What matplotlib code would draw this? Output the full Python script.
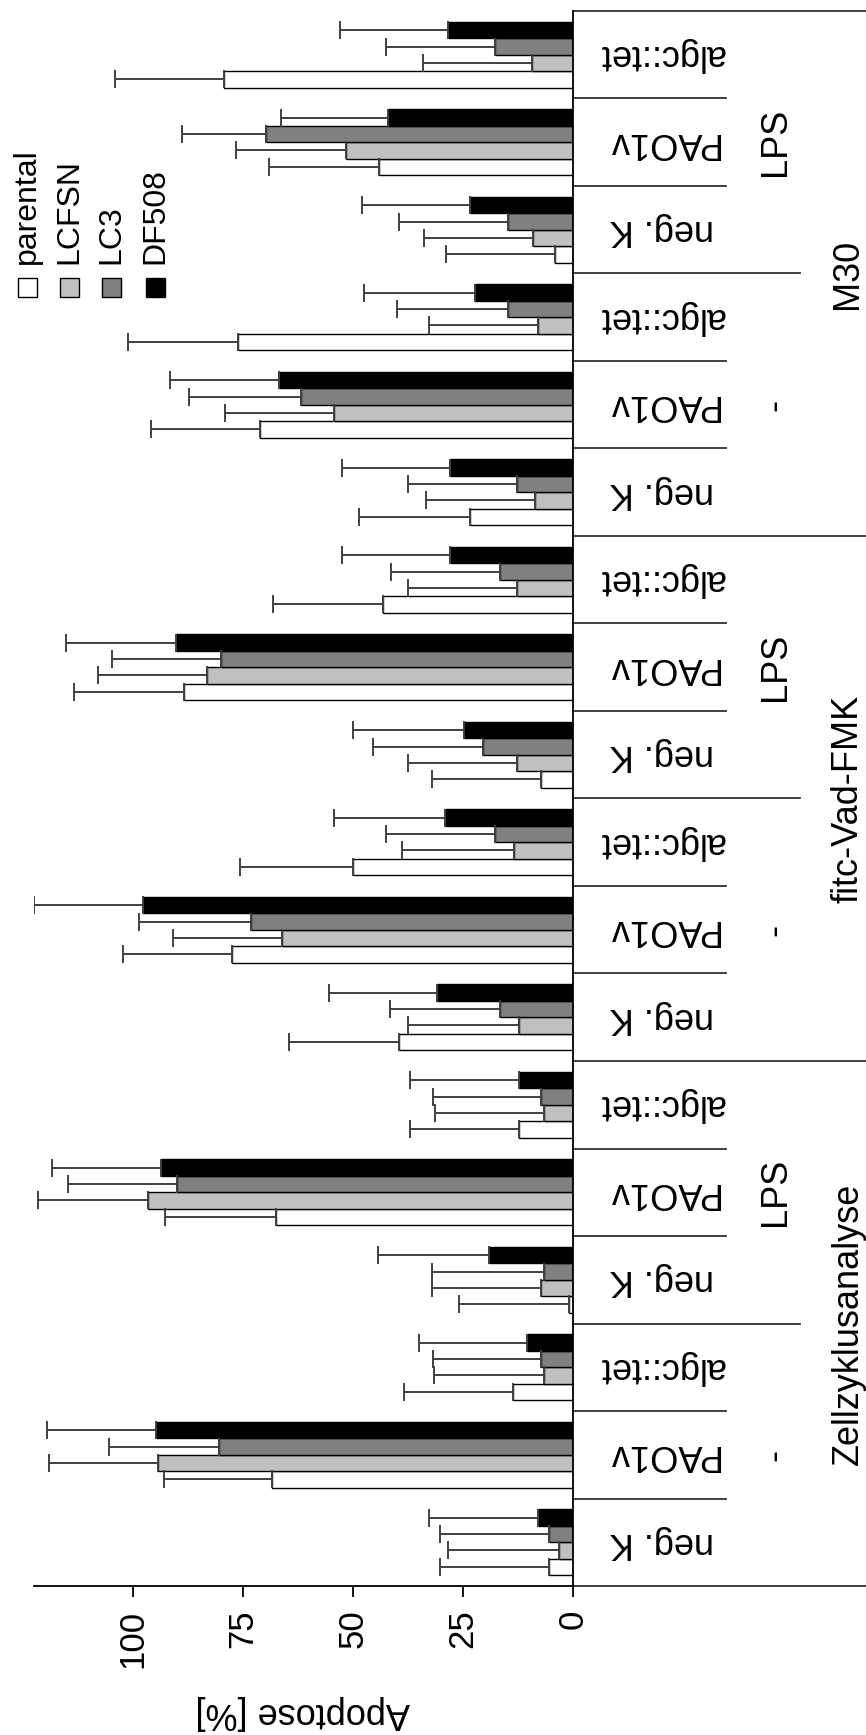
import numpy as np
from matplotlib import pyplot as plt
from matplotlib import transforms
from matplotlib.patches import Rectangle

plt.rcParams['font.family'] = ['Liberation Sans', 'DejaVu Sans']

# Daten (von unten nach oben: Zellzyklusanalyse, fitc-Vad-FMK, M30; jeweils - / LPS)
methods = ['Zellzyklusanalyse', 'fitc-Vad-FMK', 'M30']
treatments = ['-', 'LPS']
strains = ['neg. K', 'PAO1v', 'algc::tet']
series = ['parental', 'LCFSN', 'LC3', 'DF508']

parental = [5.5, 68.3, 13.7, 1.0, 67.6, 12.2,
            39.6, 77.5, 50.1, 7.2, 88.5, 43.2,
            23.5, 71.2, 76.2, 4.0, 44.2, 79.4]
lcfsn = [3.1, 94.4, 6.7, 7.3, 96.7, 6.6,
         12.2, 66.2, 13.5, 12.8, 83.2, 12.8,
         8.7, 54.3, 8.0, 9.0, 51.7, 9.3]
lc3 = [5.4, 80.4, 7.2, 6.7, 90.0, 7.2,
       16.6, 73.1, 17.8, 20.4, 80.0, 16.6,
       12.8, 61.8, 14.7, 14.7, 69.7, 17.8]
df508 = [8.0, 94.8, 10.4, 19.1, 93.6, 12.2,
         31.0, 97.8, 29.1, 24.8, 90.3, 27.9,
         27.9, 66.8, 22.2, 23.5, 42.0, 28.5]

err_parental = [24.7, 24.7, 24.6, 24.9, 25.1, 24.8,
                24.9, 24.8, 25.5, 24.8, 25.0, 24.9,
                25.1, 24.8, 24.9, 24.8, 24.8, 24.6]
err_lcfsn = [25.3, 24.6, 24.8, 24.8, 24.8, 24.8,
             25.4, 24.8, 25.3, 24.8, 24.7, 24.8,
             24.6, 24.7, 24.7, 24.8, 24.8, 24.9]
err_lc3 = [24.8, 25.0, 24.7, 25.4, 24.7, 24.7,
           25.1, 25.5, 24.8, 25.1, 24.7, 24.8,
           24.8, 25.5, 25.3, 24.9, 19.1, 24.8]
err_df508 = [24.7, 24.8, 24.6, 25.2, 24.7, 24.8,
             24.5, 24.8, 25.2, 25.1, 24.9, 24.5,
             24.5, 24.8, 25.4, 24.5, 24.4, 24.5]

values = [parental, lcfsn, lc3, df508]
errors = [err_parental, err_lcfsn, err_lc3, err_df508]
colors = ['white', '#c0c0c0', '#808080', 'black']

ticks = [0, 25, 50, 75, 100]

W, H = 866, 1735
fig = plt.figure(figsize=(W / 100, H / 100), dpi=100)

# Achse in Pixeln: links 34, rechts (Null) 573, oben 11, unten 1586
ax_l, ax_r, ax_t, ax_b = 34, 573, 11, 1586
ax = fig.add_axes([ax_l / W, (H - ax_b) / H, (ax_r - ax_l) / W, (ax_b - ax_t) / H])

n = len(parental)
pos = np.arange(n)
bar_h = 0.1875

for i in range(4):
    y = pos + (i - 1.5) * bar_h
    err = np.vstack([np.zeros(n), errors[i]])
    ax.barh(y, values[i], height=bar_h, color=colors[i], edgecolor='black',
            linewidth=1.0, xerr=err,
            error_kw=dict(ecolor='#404040', elinewidth=1.4, capsize=6.5, capthick=1.4))

ax.set_xlim(122.5, 0)
ax.set_ylim(-0.5, n - 0.5)

ax.spines['top'].set_visible(False)
ax.spines['left'].set_visible(False)
ax.spines['right'].set_linewidth(1.3)
ax.spines['bottom'].set_linewidth(1.3)
ax.set_yticks([])
ax.set_xticks(ticks)
ax.set_xticklabels([str(t) for t in ticks], rotation=90, fontsize=25)
ax.tick_params(axis='x', direction='out', length=8, width=1.3, pad=9)

# Trennlinien rechts der Achse
trans = transforms.blended_transform_factory(ax.transAxes, ax.transData)
def ax_x(px):
    return (px - ax_l) / (ax_r - ax_l)

for b in np.arange(-0.5, n, 1.0):
    k = int(b + 0.5)
    if k % 6 == 0:
        x_end = 866
    elif k % 3 == 0:
        x_end = 800
    else:
        x_end = 726
    ax.plot([1.0, ax_x(x_end)], [b, b], color='#303030', lw=1.3,
            transform=trans, clip_on=False)

# Beschriftungen
for g in range(n):
    ax.text(ax_x(662), g, strains[g % 3], rotation=180, fontsize=26,
            ha='center', va='center', transform=trans)
for t in range(6):
    ax.text(ax_x(775), t * 3 + 1, treatments[t % 2], rotation=90, fontsize=26,
            ha='center', va='center', transform=trans)
for m in range(3):
    ax.text(ax_x(848), m * 6 + 2.5, methods[m], rotation=90, fontsize=26,
            ha='center', va='center', transform=trans)

fig.text(303 / W, (H - 1712) / H, 'Apoptose [%]', rotation=180, fontsize=26,
         ha='center', va='center')

# Legende (gedreht)
leg_x = [27, 69, 111, 155]
for i in range(4):
    fig.patches.append(Rectangle(((leg_x[i] - 9.5) / W, (H - 297) / H), 19 / W, 19 / H,
                                 facecolor=colors[i], edgecolor='black', linewidth=1.0,
                                 transform=fig.transFigure, figure=fig))
    fig.text(leg_x[i] / W, (H - 264) / H, series[i], rotation=90, fontsize=23,
             ha='center', va='bottom')

plt.savefig('out.png', dpi=100)
